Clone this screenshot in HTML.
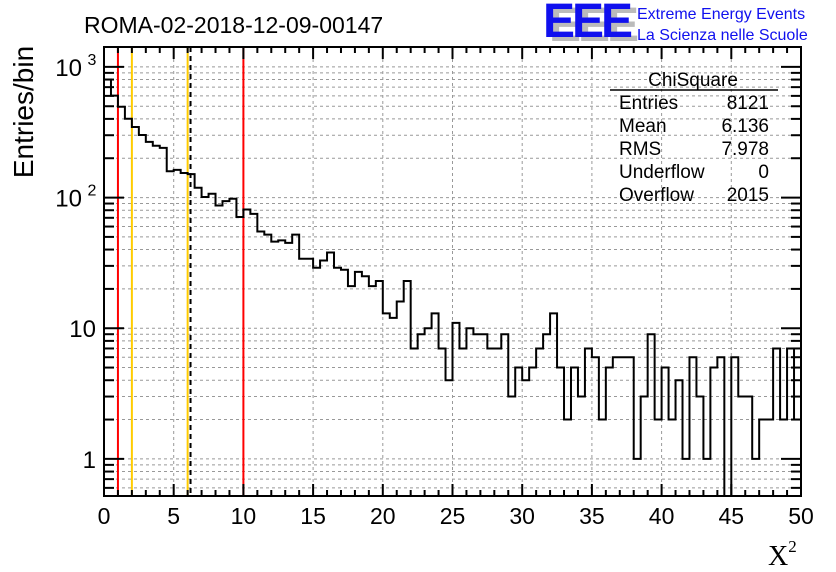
<!DOCTYPE html>
<html><head><meta charset="utf-8"><style>
body{margin:0;background:#fff;}
svg{display:block;font-family:"Liberation Sans",sans-serif;}
</style></head><body>
<svg id="chart" width="836" height="572" viewBox="0 0 836 572" xmlns="http://www.w3.org/2000/svg">
<rect width="836" height="572" fill="#fff"/>
<text x="84" y="33" font-size="23" fill="#000">ROMA-02-2018-12-09-00147</text>
<g>
<text x="549" y="41" font-size="48" font-weight="bold" fill="#bbb" letter-spacing="-3">EEE</text>
<text x="543" y="37" font-size="48" font-weight="bold" fill="#1010ee" letter-spacing="-3">EEE</text>
<text x="637" y="19" font-size="16" fill="#1010ee">Extreme Energy Events</text>
<text x="637" y="40" font-size="16" fill="#1010ee">La Scienza nelle Scuole</text>
</g>
<g id="grid"></g>
<g id="vlines"></g>
<g id="hist"></g>
<g id="axes"></g>
<g font-size="19" fill="#000">
<text x="693" y="86" text-anchor="middle">ChiSquare</text>
<line x1="610" y1="90" x2="778" y2="90" stroke="#000" stroke-width="1.5"/>
<text x="619" y="109">Entries</text><text x="769" y="109" text-anchor="end">8121</text>
<text x="619" y="132">Mean</text><text x="769" y="132" text-anchor="end">6.136</text>
<text x="619" y="155">RMS</text><text x="769" y="155" text-anchor="end">7.978</text>
<text x="619" y="178">Underflow</text><text x="769" y="178" text-anchor="end">0</text>
<text x="619" y="201">Overflow</text><text x="769" y="201" text-anchor="end">2015</text>
</g>
<text transform="translate(33,112) rotate(-90)" text-anchor="middle" font-size="28">Entries/bin</text>
<text x="768" y="565" font-size="28" font-family="Liberation Serif, serif">X<tspan font-size="17" dy="-13">2</tspan></text>
</svg>
<script>
const binEdgesRange=[0,50];
const counts=[800,603,496,401,347,301,267,249,240,159,163,154,151,119,101,107,87,94,98,71,81,75,55,52,46,47,45,52,34,34,29,33,38,29,28,21,27,25,21,23,13,12,16,23,7,9,10,13,7,4,11,7,10,9,9,7,7,9,3,5,4,5,7,9,13,5,2,5,3,7,6,2,5,6,6,6,1,3,9,2,5,2,4,1,6,3,1,5,6,0,6,3,3,1,2,2,7,2,7,2];
const xTicks=[0,5,10,15,20,25,30,35,40,45,50];
const yMajor=[1,10,100,1000];
const yMajorBase=["1","10","10","10"];
const yMajorExp=["","","2","3"];
const cutRed=[1,10];
const cutYellow=[2,6];
const meanValue=6.136;
const X0=104,X1=801,Y0=47,Y1=496,YMIN=0.52,YMAX=1420;
const NS="http://www.w3.org/2000/svg";
function sx(v){return X0+(v-binEdgesRange[0])/(binEdgesRange[1]-binEdgesRange[0])*(X1-X0);}
function sy(v){v=Math.max(v,YMIN);return Y1-(Math.log10(v)-Math.log10(YMIN))/(Math.log10(YMAX)-Math.log10(YMIN))*(Y1-Y0);}
function mk(tag,attrs,parent){const e=document.createElementNS(NS,tag);for(const k in attrs)e.setAttribute(k,attrs[k]);parent.appendChild(e);return e;}
const grid=document.getElementById('grid'),axes=document.getElementById('axes'),hist=document.getElementById('hist'),vl=document.getElementById('vlines');
xTicks.forEach(t=>{if(t>binEdgesRange[0]&&t<binEdgesRange[1]){const g=mk('line',{x1:sx(t),x2:sx(t),y1:Y0,y2:Y1,stroke:'#999','stroke-dasharray':'3,3','stroke-width':1},grid);

}});
for(let dec=0.1;dec<=1000;dec*=10){for(let m=1;m<10;m++){const v=Math.round(dec*m*1000)/1000;if(v<YMIN||v>YMAX)continue;const g=mk('line',{x1:X0,x2:X1,y1:sy(v),y2:sy(v),stroke:'#999','stroke-dasharray':'3,3','stroke-width':1},grid);


const L=(m===1)?20:10;
const t1=mk('line',{x1:X0,x2:X0+L,y1:sy(v),y2:sy(v),stroke:'#000','stroke-width':2},axes);


const t2=mk('line',{x1:X1,x2:X1-L,y1:sy(v),y2:sy(v),stroke:'#000','stroke-width':2},axes);

}}
cutRed.forEach(c=>{const l=mk('line',{x1:sx(c),x2:sx(c),y1:Y0,y2:Y1,stroke:'#f00','stroke-width':2},vl);

});
cutYellow.forEach(c=>{const l=mk('line',{x1:sx(c),x2:sx(c),y1:Y0,y2:Y1,stroke:'#fc0','stroke-width':2},vl);

});
const ml=mk('line',{x1:sx(meanValue)+1,x2:sx(meanValue)+1,y1:Y0,y2:Y1,stroke:'#000','stroke-width':2,'stroke-dasharray':'5,4'},vl);


const bw=(binEdgesRange[1]-binEdgesRange[0])/counts.length;
let pd='M'+sx(0)+','+sy(counts[0]);
counts.forEach((c,i)=>{const xa=sx(binEdgesRange[0]+i*bw),xb=sx(binEdgesRange[0]+(i+1)*bw);pd+=' L'+xa+','+sy(c)+' L'+xb+','+sy(c);});
const p=mk('path',{d:pd,fill:'none',stroke:'#000','stroke-width':2},hist);


const fr=mk('rect',{x:X0,y:Y0,width:X1-X0,height:Y1-Y0,fill:'none',stroke:'#000','stroke-width':2},axes);


for(let v=binEdgesRange[0];v<=binEdgesRange[1];v++){const L=(v%5===0)?12:6;
const a=mk('line',{x1:sx(v),x2:sx(v),y1:Y1,y2:Y1-L,stroke:'#000','stroke-width':2},axes);


const b=mk('line',{x1:sx(v),x2:sx(v),y1:Y0,y2:Y0+L,stroke:'#000','stroke-width':2},axes);

}
xTicks.forEach(t=>{const tx=mk('text',{x:sx(t),y:Y1+28,'text-anchor':'middle','font-size':23},axes);tx.textContent=String(t);

});
yMajor.forEach((v,i)=>{const hasExp=yMajorExp[i]!=='';
const tx=mk('text',{x:hasExp?X0-22:X0-8,y:sy(v)+9,'text-anchor':'end','font-size':24},axes);tx.textContent=yMajorBase[i];


if(hasExp){const ex=mk('text',{x:X0-12,y:sy(v)-2,'text-anchor':'middle','font-size':16},axes);ex.textContent=yMajorExp[i];

}});
</script>
</body></html>
